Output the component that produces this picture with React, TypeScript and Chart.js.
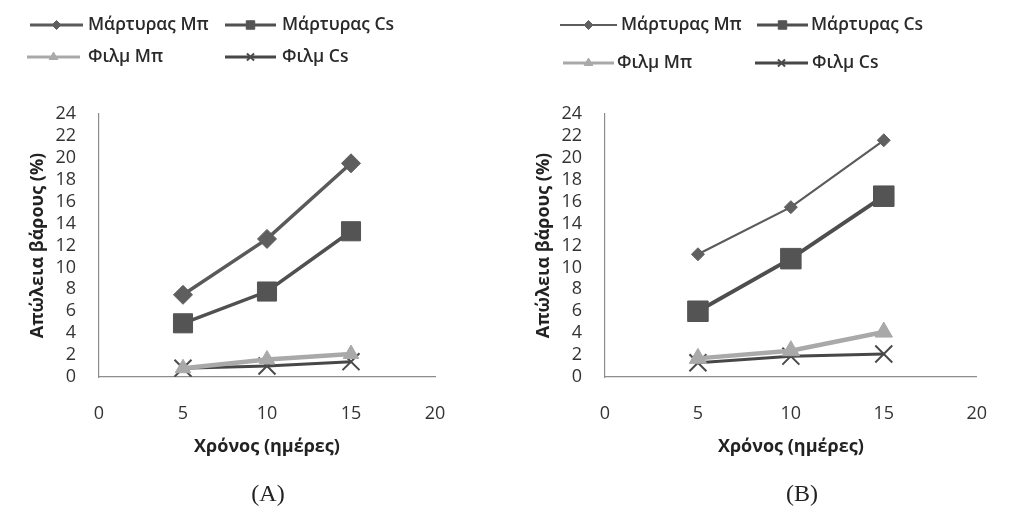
import React, { useEffect, useRef } from 'react';
import { Chart, registerables } from 'chart.js';
import { drawPoint } from 'chart.js/helpers';

Chart.register(...registerables);

// Storage time (days) and weight loss (%) per treatment
const days = [5, 10, 15];
const seriesNames = ['Μάρτυρας Μπ', 'Μάρτυρας Cs', 'Φιλμ Μπ', 'Φιλμ Cs'];

const controlMpA = [7.5, 12.6, 19.5];
const controlCsA = [4.9, 7.8, 13.3];
const filmMpA = [0.8, 1.6, 2.1];
const filmCsA = [0.8, 1.0, 1.4];

const controlMpB = [11.2, 15.5, 21.6];
const controlCsB = [6.0, 10.8, 16.5];
const filmMpB = [1.7, 2.4, 4.1];
const filmCsB = [1.3, 1.9, 2.1];

const xTickValues = [0, 5, 10, 15, 20];
const yTickValues = [0, 2, 4, 6, 8, 10, 12, 14, 16, 18, 20, 22, 24];

const xTitle = 'Χρόνος (ημέρες)';
const yTitle = 'Απώλεια βάρους (%)';

const FONT = '"Open Sans", "Noto Sans", sans-serif';

type SeriesStyle = {
  color: string;
  pointColor: string;
  width: number;
  point: string;
  radius: number;
  pointBorder: number;
  legendRadius: number;
};

const stylesA: SeriesStyle[] = [
  { color: '#5a5a5a', pointColor: '#5e5e5e', width: 3.5, point: 'rectRot', radius: 9.5, pointBorder: 1, legendRadius: 4.5 },
  { color: '#505050', pointColor: '#545454', width: 3.5, point: 'rect', radius: 13.5, pointBorder: 1, legendRadius: 6 },
  { color: '#a9a9a9', pointColor: '#a9a9a9', width: 4.5, point: 'triangle', radius: 9, pointBorder: 1, legendRadius: 5 },
  { color: '#474747', pointColor: '#555555', width: 3, point: 'crossRot', radius: 12, pointBorder: 2, legendRadius: 5 },
];

const stylesB: SeriesStyle[] = [
  { color: '#5c5c5c', pointColor: '#606060', width: 2.2, point: 'rectRot', radius: 6.5, pointBorder: 1, legendRadius: 4.5 },
  { color: '#4e4e4e', pointColor: '#545454', width: 4, point: 'rect', radius: 14.5, pointBorder: 1, legendRadius: 6 },
  { color: '#a9a9a9', pointColor: '#a9a9a9', width: 4.5, point: 'triangle', radius: 10, pointBorder: 1, legendRadius: 5 },
  { color: '#474747', pointColor: '#555555', width: 3, point: 'crossRot', radius: 12, pointBorder: 2, legendRadius: 5 },
];

type LegendSlot = { x0: number; x1: number; y: number; tx: number };

const legendA: LegendSlot[] = [
  { x0: 30, x1: 83, y: 25, tx: 88 },
  { x0: 225, x1: 276, y: 25, tx: 282 },
  { x0: 27, x1: 80, y: 57, tx: 88 },
  { x0: 225, x1: 276, y: 57, tx: 282 },
];

const legendB: LegendSlot[] = [
  { x0: 54, x1: 111, y: 25, tx: 115 },
  { x0: 251, x1: 302, y: 25, tx: 305 },
  { x0: 57, x1: 108, y: 63, tx: 111 },
  { x0: 249, x1: 302, y: 63, tx: 306 },
];

// Excel-style legend: a short line with the marker in its middle, then the label
const lineSampleLegend = {
  id: 'lineSampleLegend',
  afterDraw(chart: any, _args: any, opts: any) {
    const ctx: CanvasRenderingContext2D = chart.ctx;
    const slots: LegendSlot[] = opts.slots || [];
    chart.data.datasets.forEach((ds: any, i: number) => {
      const s = slots[i];
      if (!s) return;
      ctx.save();
      ctx.strokeStyle = ds.borderColor;
      ctx.lineWidth = Math.min(ds.borderWidth, 3);
      ctx.beginPath();
      ctx.moveTo(s.x0, s.y);
      ctx.lineTo(s.x1, s.y);
      ctx.stroke();
      ctx.fillStyle = ds.pointBackgroundColor;
      ctx.strokeStyle = ds.pointBorderColor;
      ctx.lineWidth = ds.pointBorderWidth;
      drawPoint(
        ctx,
        { pointStyle: ds.pointStyle, rotation: 0, radius: ds.legendRadius, borderWidth: ds.pointBorderWidth },
        (s.x0 + s.x1) / 2,
        s.y
      );
      ctx.fillStyle = '#2a2a2a';
      ctx.font = `600 17.5px ${FONT}`;
      ctx.textBaseline = 'middle';
      ctx.textAlign = 'left';
      ctx.fillText(ds.label, s.tx, s.y);
      ctx.restore();
    });
  },
};

type PanelProps = {
  left: number;
  width: number;
  series: number[][];
  styles: SeriesStyle[];
  legend: LegendSlot[];
  plotRight: number;
  caption: string;
  captionX: number;
};

function Panel({ left, width, series, styles, legend, plotRight, caption, captionX }: PanelProps) {
  const ref = useRef<HTMLCanvasElement | null>(null);

  useEffect(() => {
    if (!ref.current) return;
    const datasets = series.map((vals, i) => {
      const st = styles[i];
      return {
        label: seriesNames[i],
        data: days.map((d, k) => ({ x: d, y: vals[k] })),
        borderColor: st.color,
        backgroundColor: st.pointColor,
        borderWidth: st.width,
        pointStyle: st.point,
        pointRadius: st.radius,
        pointBackgroundColor: st.pointColor,
        pointBorderColor: st.point === 'crossRot' ? '#4a4a4a' : st.pointColor,
        pointBorderWidth: st.pointBorder,
        legendRadius: st.legendRadius,
        tension: 0,
        fill: false,
      };
    });

    const tickFont = { family: FONT, size: 18, lineHeight: 1.2 };
    const titleFont = { family: FONT, size: 18, weight: 'bold' as const, lineHeight: 1.2 };

    const chart = new Chart(ref.current, {
      type: 'line',
      data: { datasets: datasets as any },
      plugins: [lineSampleLegend],
      options: {
        responsive: false,
        animation: false,
        events: [],
        layout: { padding: { top: 114, left: 0, right: width - plotRight, bottom: 50 } },
        plugins: {
          legend: { display: false },
          tooltip: { enabled: false },
          lineSampleLegend: { slots: legend },
        } as any,
        scales: {
          x: {
            type: 'linear',
            min: 0,
            max: 20,
            afterBuildTicks: (scale: any) => {
              scale.ticks = xTickValues.map((v) => ({ value: v }));
            },
            afterFit: (scale: any) => {
              scale.height = 90;
            },
            grid: { display: false, drawTicks: false },
            border: { display: true, color: '#8c8c8c', width: 1.2 },
            ticks: { color: '#333333', font: tickFont, padding: 26, maxRotation: 0, autoSkip: false },
            title: { display: true, text: xTitle, color: '#222222', font: titleFont, padding: { top: 0, bottom: 9 } },
          },
          y: {
            type: 'linear',
            min: 0,
            max: 24,
            afterBuildTicks: (scale: any) => {
              scale.ticks = yTickValues.map((v) => ({ value: v }));
            },
            afterFit: (scale: any) => {
              scale.width = 99;
            },
            grid: { display: false, drawTicks: false },
            border: { display: true, color: '#8c8c8c', width: 1.2 },
            ticks: { color: '#333333', font: tickFont, padding: 23, autoSkip: false },
            title: { display: true, text: yTitle, color: '#222222', font: titleFont, padding: { top: 27, bottom: 0 } },
          },
        },
      },
    });
    return () => chart.destroy();
  }, []);

  return (
    <div style={{ position: 'absolute', left, top: 0, width, height: 517 }}>
      <canvas ref={ref} width={width} height={517} style={{ display: 'block' }} />
      <div
        style={{
          position: 'absolute',
          left: captionX - 40,
          width: 80,
          top: 479,
          textAlign: 'center',
          fontFamily: '"Liberation Serif", "DejaVu Serif", serif',
          fontSize: 24,
          lineHeight: '28px',
          color: '#222222',
        }}
      >
        {caption}
      </div>
    </div>
  );
}

export default function App() {
  return (
    <div
      style={{
        position: 'absolute',
        left: 0,
        top: 0,
        width: 1013,
        height: 517,
        background: '#ffffff',
        overflow: 'hidden',
      }}
    >
      <Panel
        left={0}
        width={506}
        series={[controlMpA, controlCsA, filmMpA, filmCsA]}
        styles={stylesA}
        legend={legendA}
        plotRight={435}
        caption="(A)"
        captionX={268}
      />
      <Panel
        left={506}
        width={507}
        series={[controlMpB, controlCsB, filmMpB, filmCsB]}
        styles={stylesB}
        legend={legendB}
        plotRight={495}
        caption="(B)"
        captionX={296}
      />
    </div>
  );
}
